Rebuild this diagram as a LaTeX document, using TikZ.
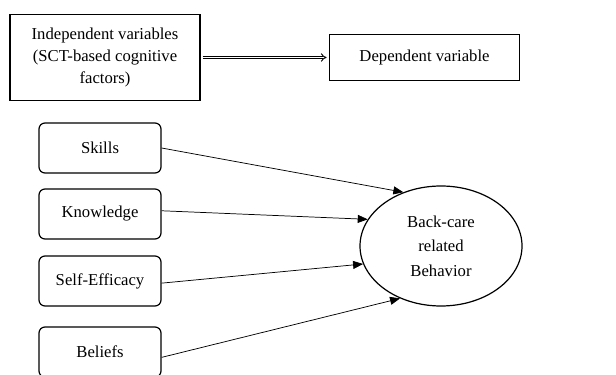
\documentclass[tikz,border=0pt]{standalone}
\usepackage{fontspec}
\setmainfont{Liberation Serif}
\usetikzlibrary{arrows.meta, shapes.geometric}

\tikzset{
  varbox/.style={draw, line width=0.9pt, align=center, inner sep=2pt},
  factorbox/.style={draw, line width=0.9pt, rounded corners=4.5pt,
                    minimum width=91.5pt, minimum height=37.5pt},
  outcome/.style={draw, ellipse, line width=0.9pt, align=center, inner sep=0pt,
                  minimum width=121.5pt, minimum height=90pt,
                  font=\fontsize{12.5}{18.5}\selectfont},
  arr/.style={line width=0.55pt, -{Triangle[length=7.5pt, width=6pt]}},
  dblarr/.style={line width=0.7pt, double, double distance=1.4pt, -{Implies}}
}

\begin{document}
\begin{tikzpicture}[x=0.75pt, y=0.75pt, font=\fontsize{12.5}{16.5}\selectfont]
  \useasboundingbox (0,0) rectangle (616,374);
  % heading boxes
  \node[varbox, minimum width=142.5pt, minimum height=64.5pt] (indep) at (105,316.5)
       {Independent variables\\(SCT-based cognitive\\factors)};
  \node[varbox, minimum width=143pt, minimum height=35pt] (dep) at (424.5,316.5)
       {Dependent variable};
  \draw[dblarr] ([xshift=1.5pt]indep.east) -- ([xshift=-1.5pt]dep.west);

  % factors
  \node[factorbox] (skills)    at (100,226) {Skills};
  \node[factorbox] (knowledge) at (100,160) {Knowledge};
  \node[factorbox] (selfeff)   at (100,93)  {Self-Efficacy};
  \node[factorbox] (beliefs)   at (100,22)  {Beliefs};
  \node[outcome]   (behavior)  at (441,128) {Back-care\\related\\Behavior};

  \draw[arr] (skills.east)     -- (behavior.125);
  \draw[arr] (knowledge.3)     -- (behavior.160);
  \draw[arr] (selfeff.-2)      -- (behavior.193);
  \draw[arr] (beliefs.-5)      -- (behavior.232);
\end{tikzpicture}
\end{document}
